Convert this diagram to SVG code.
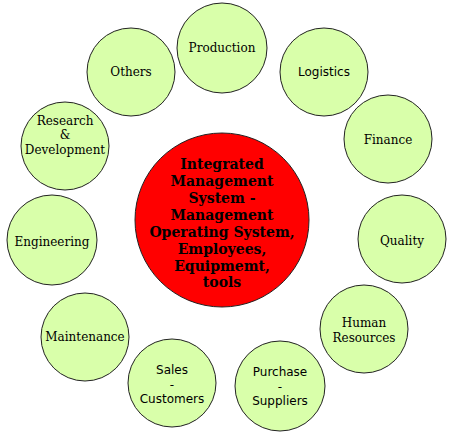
<svg xmlns="http://www.w3.org/2000/svg" width="455" height="441" viewBox="0 0 455 441">
<style>
.n{fill:#d9ffaa;stroke:#222;stroke-width:1}
.c{fill:#ff0000;stroke:#222;stroke-width:1}
.t{font-family:"DejaVu Serif",serif;font-size:12px;fill:#000;text-anchor:middle}
.s{font-family:"DejaVu Sans",sans-serif;font-size:12px;fill:#000;text-anchor:middle}
.b{font-family:"DejaVu Serif",serif;font-size:14px;font-weight:bold;fill:#000;text-anchor:middle}
</style>
<rect width="455" height="441" fill="#fff"/>
<g id="connectors"></g>
<g id="center"><circle class="c" cx="222" cy="220" r="87"/>
<text class="b"><tspan x="222" y="169">Integrated</tspan><tspan x="222" y="186">Management</tspan><tspan x="222" y="203">System -</tspan><tspan x="222" y="220">Management</tspan><tspan x="222" y="237">Operating System,</tspan><tspan x="222" y="254">Employees,</tspan><tspan x="222" y="271">Equipmemt,</tspan><tspan x="222" y="287">tools</tspan></text></g>
<g id="production"><circle class="n" cx="222" cy="48" r="45"/><text class="t" x="222" y="52">Production</text></g>
<g id="logistics"><circle class="n" cx="324" cy="72" r="44"/><text class="s" x="324" y="76">Logistics</text></g>
<g id="finance"><circle class="n" cx="388" cy="139" r="44"/><text class="t" x="388" y="144">Finance</text></g>
<g id="quality"><circle class="n" cx="402" cy="239" r="44"/><text class="t" x="402" y="245">Quality</text></g>
<g id="hr"><circle class="n" cx="364" cy="329" r="44"/><text class="t"><tspan x="364" y="327">Human</tspan><tspan x="364" y="342">Resources</tspan></text></g>
<g id="purchase"><circle class="n" cx="280" cy="386" r="45"/><text class="s"><tspan x="280" y="376">Purchase</tspan><tspan x="280" y="391">-</tspan><tspan x="280" y="405">Suppliers</tspan></text></g>
<g id="sales"><circle class="n" cx="172" cy="383" r="44"/><text class="s"><tspan x="172" y="374">Sales</tspan><tspan x="172" y="389">-</tspan><tspan x="172" y="403">Customers</tspan></text></g>
<g id="maintenance"><circle class="n" cx="85" cy="337" r="44"/><text class="t" x="85" y="341">Maintenance</text></g>
<g id="engineering"><circle class="n" cx="52" cy="240" r="45"/><text class="t" x="52" y="246">Engineering</text></g>
<g id="research"><circle class="n" cx="65" cy="146" r="44"/><text class="t"><tspan x="65" y="125">Research</tspan><tspan x="65" y="139">&amp;</tspan><tspan x="65" y="154">Development</tspan></text></g>
<g id="others"><circle class="n" cx="131" cy="72" r="44"/><text class="t" x="131" y="76">Others</text></g>
</svg>
